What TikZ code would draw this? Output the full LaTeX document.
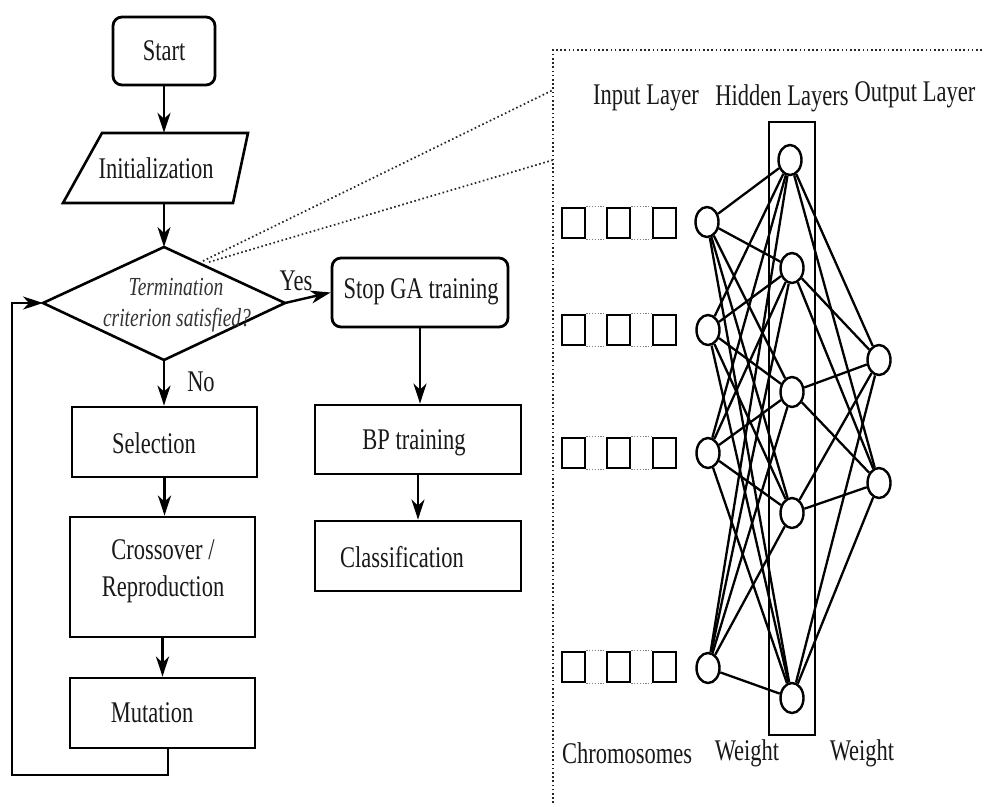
\documentclass[tikz,border=0pt]{standalone}
\usepackage{fontspec}
\setmainfont{Liberation Serif}[FakeStretch=0.75]
\usetikzlibrary{arrows.meta,shapes.geometric}
\tikzset{
  ln/.style={line width=2.6pt},
  arr/.style={line width=2.4pt,-{Stealth[length=20pt,width=13pt,inset=6pt]}},
  box/.style={draw,line width=2.8pt,inner sep=0pt},
  rbox/.style={box,rounded corners=9pt},
  txt/.style={inner sep=0pt,text=black!90,font=\fontsize{30}{37}\selectfont},
  itxt/.style={inner sep=0pt,text=black!80,font=\fontsize{26}{30}\selectfont\itshape},
  neuron/.style={draw,ellipse,line width=2.4pt,minimum width=23pt,minimum height=30pt,inner sep=0pt,fill=white},
  gene/.style={draw,line width=2.6pt,minimum width=23pt,minimum height=30pt,inner sep=0pt},
  link/.style={line width=2.3pt},
  gdot/.style={gray,line width=1.3pt,dash pattern=on 1.2pt off 1.6pt},
  frame/.style={black!85,line width=1.7pt,dash pattern=on 1.6pt off 2.6pt},
}
\begin{document}
\begin{tikzpicture}[x=1pt,y=-1pt]
\fill[white] (0,0) rectangle (982,803);
\useasboundingbox (0,0) rectangle (982,803);

% ---------- flowchart ----------
\node[rbox,minimum width=102pt,minimum height=68pt] (start) at (164,51) {};
\node[txt] at (start.center) {Start};

\node[minimum height=70pt,minimum width=120pt,inner sep=0pt] (init) at (164,168) {};
\draw[ln,line join=miter] (102,133) -- (248,133) -- (233,203) -- (63,203) -- cycle;
\node[txt] at (156,168) {Initialization};

\coordinate (dtop) at (164,247);
\coordinate (dright) at (285,303);
\coordinate (dbottom) at (164,360);
\coordinate (dleft) at (43,303);
\draw[ln,line join=miter] (dtop) -- (dright) -- (dbottom) -- (dleft) -- cycle;
\node[itxt] at (176,287) {Termination};
\node[itxt] at (177,320) {criterion satisfied?};

\node[rbox,minimum width=176pt,minimum height=69pt] (stop) at (420,292.5) {};
\node[txt] at (421,292) {Stop GA training};
\node[box,minimum width=206pt,minimum height=69pt] (bp) at (418,439.5) {};
\node[txt] at (414,443) {BP training};
\node[box,minimum width=206pt,minimum height=70pt] (cls) at (418,556) {};
\node[txt] at (402,557) {Classification};

\node[box,minimum width=185pt,minimum height=70pt] (sel) at (164.5,442) {};
\node[txt] at (154,443) {Selection};
\node[box,minimum width=185pt,minimum height=120pt] (cross) at (162.5,577) {};
\node[txt,align=center] at (163,571) {Crossover /\\Reproduction};
\node[box,minimum width=185pt,minimum height=70pt] (mut) at (162.5,713) {};
\node[txt] at (152,713) {Mutation};

\node[txt] at (296,281) {Yes};
\node[txt] at (201,382) {No};

\draw[arr] (start.south) -- (start.south |- init.north);
\draw[arr] (init.south) -- (dtop);
\draw[arr] (dright) -- (stop.west);
\draw[arr] (dbottom) -- (dbottom |- sel.north);
\draw[arr] (sel.south) -- (sel.south |- cross.north);
\draw[arr] (cross.south) -- (cross.south |- mut.north);
\draw[arr] (stop.south) -- (stop.south |- bp.north);
\draw[arr] (bp.south) -- (bp.south |- cls.north);
\coordinate (lp1) at (168,775);
\coordinate (lp2) at (12,775);
\draw[arr] (mut.south -| lp1) -- (lp1) -- (lp2) -- (lp2 |- dleft) -- (dleft);

% ---------- zoom frame ----------
\coordinate (z1) at (203,261);
\coordinate (z2) at (209,262);
\coordinate (fa) at (553,90);
\coordinate (fb) at (553,160);
\coordinate (fbot) at (553,803);
\coordinate (fcorner) at (553,50);
\coordinate (fright) at (982,50);
\draw[frame] (z1) -- (fa);
\draw[frame] (z2) -- (fb);
\draw[frame] (fbot) -- (fcorner) -- (fright);

% ---------- network ----------
\node[txt] at (646,98) {Input Layer};
\node[txt] at (782,98) {Hidden Layers};
\node[txt] at (915,95) {Output Layer};
\node[txt] at (627,753) {Chromosomes};
\node[txt] at (747,753) {Weight};
\node[txt] at (862,753) {Weight};

\draw[line width=2pt] (769,122) rectangle (815,735);

\foreach \r/\y in {1/223,2/330,3/453,4/667}{
  \node[gene] (c\r a) at (573.5,\y) {};
  \node[gene] (c\r b) at (618.5,\y) {};
  \node[gene] (c\r c) at (664.5,\y) {};
  \draw[gdot] (c\r a.north east) -- (c\r b.north west);
  \draw[gdot] (c\r a.south east) -- (c\r b.south west);
  \draw[gdot] (c\r b.north east) -- (c\r c.north west);
  \draw[gdot] (c\r b.south east) -- (c\r c.south west);
}

\node[neuron] (i1) at (707,222) {};
\node[neuron] (i2) at (708,330) {};
\node[neuron] (i3) at (708,453) {};
\node[neuron] (i4) at (708,668) {};
\node[neuron] (h1) at (790,160) {};
\node[neuron] (h2) at (792,268) {};
\node[neuron] (h3) at (792,392) {};
\node[neuron] (h4) at (792,513) {};
\node[neuron] (h5) at (792,698) {};
\node[neuron] (o1) at (879,360) {};
\node[neuron] (o2) at (879,483) {};

\foreach \i in {1,2,3,4}{
  \foreach \h in {1,2,3,4,5}{
    \draw[link] (i\i) -- (h\h);
  }
}
\foreach \h in {1,2,3,4,5}{
  \foreach \o in {1,2}{
    \draw[link] (h\h) -- (o\o);
  }
}
\end{tikzpicture}
\end{document}
